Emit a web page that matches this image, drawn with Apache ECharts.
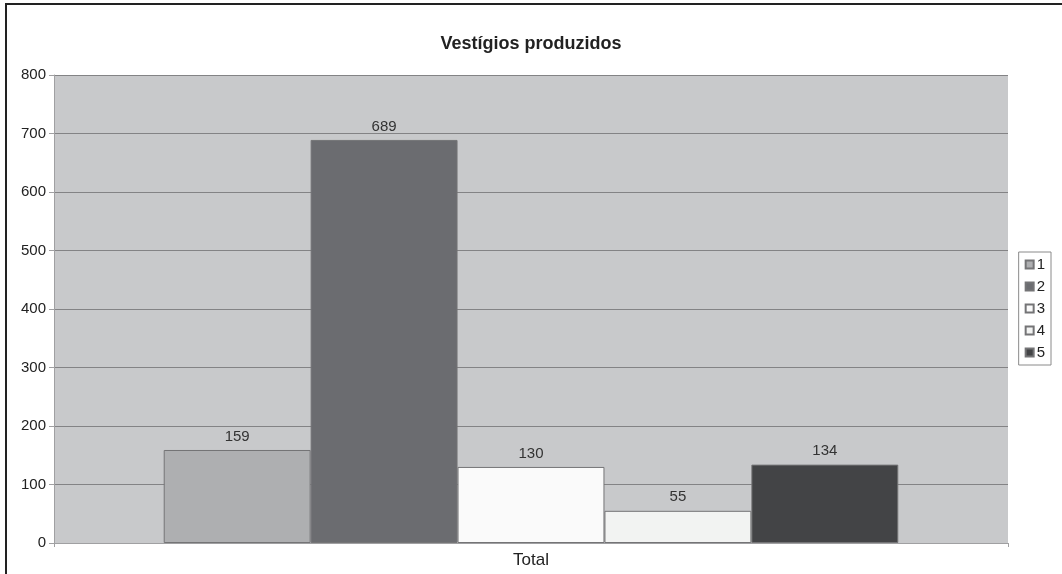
<!DOCTYPE html>
<html>
<head>
<meta charset="utf-8">
<title>Vestígios produzidos</title>
<script src="https://cdn.jsdelivr.net/npm/echarts@6/dist/echarts.min.js"></script>
<style>
  html, body { margin: 0; padding: 0; background: #ffffff; }
  #chart { width: 1062px; height: 574px; }
</style>
</head>
<body>
<div id="chart"></div>
<script>
// Chart data
const categories = ['Total'];
const seriesNames = ['1', '2', '3', '4', '5'];
const seriesValues = [159, 689, 130, 55, 134];
const seriesColors = ['#aeafb1', '#6b6c70', '#fafafa', '#f2f3f2', '#434446'];
const yTicks = { min: 0, max: 800, interval: 100 };

const chart = echarts.init(document.getElementById('chart'), null, { renderer: 'canvas' });

const FONT = '"Liberation Sans", Arial, sans-serif';

const series = seriesNames.map((name, i) => ({
  name: name,
  type: 'bar',
  data: [seriesValues[i]],
  barGap: '0%',
  barCategoryGap: '23%',
  itemStyle: {
    color: seriesColors[i],
    borderColor: '#747476',
    borderWidth: 1
  },
  label: {
    show: true,
    position: 'top',
    distance: 6,
    color: '#333333',
    fontFamily: FONT,
    fontSize: 15
  },
  emphasis: { disabled: true },
  animation: false
}));

chart.setOption({
  animation: false,
  backgroundColor: '#ffffff',
  title: {
    text: 'Vestígios produzidos',
    left: 'center',
    top: 30,
    textStyle: {
      fontFamily: FONT,
      fontSize: 18,
      fontWeight: 'bold',
      color: '#222222'
    }
  },
  graphic: [{
    type: 'rect',
    shape: { x: 6, y: 4, width: 1100, height: 620 },
    style: { fill: 'none', stroke: '#222222', lineWidth: 2 },
    silent: true,
    z: 100
  }],
  legend: {
    orient: 'vertical',
    right: 11,
    top: 252,
    data: seriesNames,
    icon: 'rect',
    itemWidth: 8,
    itemHeight: 8,
    itemGap: 7,
    padding: [5, 6, 5, 6],
    backgroundColor: '#ffffff',
    borderColor: '#8a8a8a',
    borderWidth: 1,
    textStyle: {
      fontFamily: FONT,
      fontSize: 15,
      color: '#222222',
      padding: [0, 0, 0, -2]
    },
    selectedMode: false
  },
  grid: {
    left: 54,
    right: 54,
    top: 75,
    bottom: 31,
    show: true,
    backgroundColor: '#c8c9cb',
    borderWidth: 0
  },
  xAxis: {
    type: 'category',
    data: categories,
    axisLine: { lineStyle: { color: '#a0a0a2', width: 1 } },
    axisTick: { show: true, length: 4, lineStyle: { color: '#a0a0a2' } },
    axisLabel: {
      fontFamily: FONT,
      fontSize: 17,
      color: '#222222',
      margin: 9
    }
  },
  yAxis: {
    type: 'value',
    min: yTicks.min,
    max: yTicks.max,
    interval: yTicks.interval,
    axisLine: { show: true, lineStyle: { color: '#a0a0a2', width: 1 } },
    axisTick: { show: true, length: 5, lineStyle: { color: '#a0a0a2' } },
    axisLabel: {
      fontFamily: FONT,
      fontSize: 15,
      color: '#222222',
      margin: 8
    },
    splitLine: { show: true, lineStyle: { color: '#838385', width: 1 } }
  },
  series: series
});
</script>
</body>
</html>
